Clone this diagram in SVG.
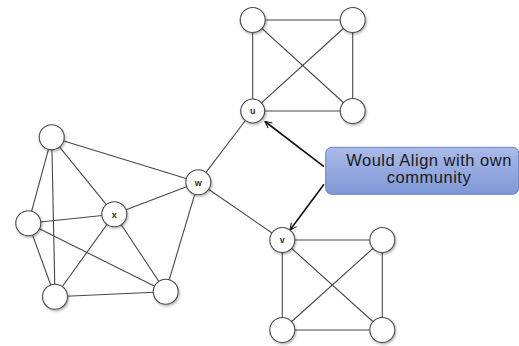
<svg xmlns="http://www.w3.org/2000/svg" width="519" height="346" viewBox="0 0 519 346">
  <style>
    .edge { stroke: #474747; stroke-width: 1.1; fill: none; }
    .node circle { fill: #ffffff; stroke: #4a4a4a; stroke-width: 1.1; filter: url(#shadow); }
    .lbl { font-family: "Liberation Sans", Arial, sans-serif; font-size: 9px; font-weight: bold; fill: #333333; text-anchor: middle; }
    .pointer { stroke: #111111; stroke-width: 1.6; fill: none; marker-end: url(#openArrow); }
    .callout-text { font-family: "Liberation Sans", Arial, sans-serif; font-size: 16.5px; letter-spacing: 0.5px; fill: #1a1a1a; text-anchor: middle; }
  </style>
  <defs>
    <filter id="shadow" x="-30%" y="-30%" width="170%" height="170%">
      <feDropShadow dx="1" dy="1.5" stdDeviation="1.2" flood-color="#000000" flood-opacity="0.3"/>
    </filter>
    <linearGradient id="calloutFill" x1="0" y1="0" x2="0" y2="1">
      <stop offset="0" stop-color="#a9bbe8"/>
      <stop offset="1" stop-color="#7f97d6"/>
    </linearGradient>
    <marker id="openArrow" viewBox="0 0 12 12" refX="11" refY="6" markerWidth="8" markerHeight="8" markerUnits="userSpaceOnUse" orient="auto">
      <path d="M1,1 L11,6 L1,11" fill="none" stroke="#111111" stroke-width="1.6"/>
    </marker>
  </defs>

  <g id="connectors">
    <!-- upper community -->
    <line class="edge" x1="252.7" y1="20" x2="352.7" y2="20"/>
    <line class="edge" x1="252.7" y1="20" x2="252.7" y2="111"/>
    <line class="edge" x1="252.7" y1="20" x2="352.7" y2="111"/>
    <line class="edge" x1="352.7" y1="20" x2="252.7" y2="111"/>
    <line class="edge" x1="352.7" y1="20" x2="352.7" y2="111"/>
    <line class="edge" x1="252.7" y1="111" x2="352.7" y2="111"/>
    <!-- bridge through w -->
    <line class="edge" x1="252.7" y1="111" x2="198.3" y2="182.3"/>
    <line class="edge" x1="198.3" y1="182.3" x2="282.3" y2="240"/>
    <!-- lower community -->
    <line class="edge" x1="282.3" y1="240" x2="382.3" y2="240"/>
    <line class="edge" x1="282.3" y1="240" x2="282.3" y2="330"/>
    <line class="edge" x1="282.3" y1="240" x2="382.3" y2="330"/>
    <line class="edge" x1="382.3" y1="240" x2="282.3" y2="330"/>
    <line class="edge" x1="382.3" y1="240" x2="382.3" y2="330"/>
    <line class="edge" x1="282.3" y1="330" x2="382.3" y2="330"/>
    <!-- left community -->
    <line class="edge" x1="51.7" y1="137.3" x2="198.3" y2="182.3"/>
    <line class="edge" x1="51.7" y1="137.3" x2="114.3" y2="214.3"/>
    <line class="edge" x1="51.7" y1="137.3" x2="28.3" y2="223.3"/>
    <line class="edge" x1="51.7" y1="137.3" x2="55" y2="296.7"/>
    <line class="edge" x1="28.3" y1="223.3" x2="114.3" y2="214.3"/>
    <line class="edge" x1="28.3" y1="223.3" x2="55" y2="296.7"/>
    <line class="edge" x1="28.3" y1="223.3" x2="165.7" y2="291.7"/>
    <line class="edge" x1="55" y1="296.7" x2="114.3" y2="214.3"/>
    <line class="edge" x1="55" y1="296.7" x2="165.7" y2="291.7"/>
    <line class="edge" x1="114.3" y1="214.3" x2="165.7" y2="291.7"/>
    <line class="edge" x1="114.3" y1="214.3" x2="198.3" y2="182.3"/>
    <line class="edge" x1="165.7" y1="291.7" x2="198.3" y2="182.3"/>
    <!-- callout pointers -->
    <line class="pointer" x1="324" y1="166.7" x2="265" y2="121.5"/>
    <line class="pointer" x1="324" y1="184.3" x2="290" y2="230"/>
  </g>

  <g id="node-t1" class="node"><circle cx="252.7" cy="20" r="12.5"/></g>
  <g id="node-t2" class="node"><circle cx="352.7" cy="20" r="12.5"/></g>
  <g id="node-u" class="node"><circle cx="252.7" cy="111" r="12"/><text class="lbl" x="252.7" y="114.2">u</text></g>
  <g id="node-t4" class="node"><circle cx="352.7" cy="111" r="12.5"/></g>

  <g id="node-w" class="node"><circle cx="198.3" cy="182.3" r="12.5"/><text class="lbl" x="198.3" y="185.5">w</text></g>

  <g id="node-v" class="node"><circle cx="282.3" cy="240" r="12.5"/><text class="lbl" x="282.3" y="243.2">v</text></g>
  <g id="node-b2" class="node"><circle cx="382.3" cy="240" r="12.5"/></g>
  <g id="node-b3" class="node"><circle cx="282.3" cy="330" r="12.5"/></g>
  <g id="node-b4" class="node"><circle cx="382.3" cy="330" r="12.5"/></g>

  <g id="node-l1" class="node"><circle cx="51.7" cy="137.3" r="12.5"/></g>
  <g id="node-l2" class="node"><circle cx="28.3" cy="223.3" r="12.5"/></g>
  <g id="node-x" class="node"><circle cx="114.3" cy="214.3" r="12.5"/><text class="lbl" x="114.3" y="217.5">x</text></g>
  <g id="node-l4" class="node"><circle cx="55" cy="296.7" r="12.5"/></g>
  <g id="node-l5" class="node"><circle cx="165.7" cy="291.7" r="12.5"/></g>

  <g id="callout">
    <rect x="325.7" y="147.3" width="193" height="47" rx="6" ry="6" fill="url(#calloutFill)" stroke="#6a84c6" stroke-width="1"/>
    <text class="callout-text" x="429" y="165.5">Would Align with own</text>
    <text class="callout-text" x="429" y="183">community</text>
  </g>
</svg>
